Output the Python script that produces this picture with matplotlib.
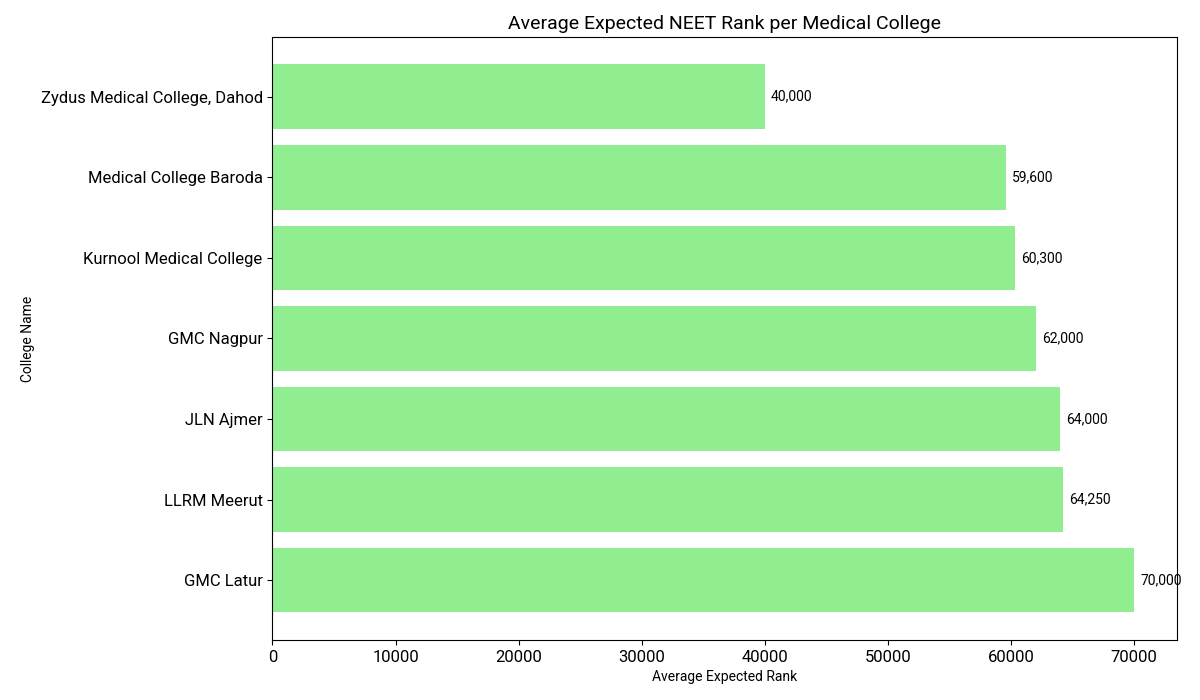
import matplotlib
matplotlib.use("Agg")
import matplotlib.pyplot as plt

plt.rcParams["font.family"] = ["Roboto", "DejaVu Sans"]

colleges = [
    "GMC Latur",
    "LLRM Meerut",
    "JLN Ajmer",
    "GMC Nagpur",
    "Kurnool Medical College",
    "Medical College Baroda",
    "Zydus Medical College, Dahod",
]
avg_rank = [70000, 64250, 64000, 62000, 60300, 59600, 40000]

fig, ax = plt.subplots(figsize=(12, 7), dpi=100)
bars = ax.barh(colleges, avg_rank, color="lightgreen")

for y, v in enumerate(avg_rank):
    ax.text(v + 500, y, f"{v:,}", va="center", ha="left", fontsize=10)

ax.set_title("Average Expected NEET Rank per Medical College", fontsize=14)
ax.set_xlabel("Average Expected Rank", fontsize=10)
ax.set_ylabel("College Name", fontsize=10)
ax.tick_params(axis="both", labelsize=12)

fig.subplots_adjust(left=0.227, right=0.981, top=0.947, bottom=0.086)
fig.savefig("out.png", dpi=100)
